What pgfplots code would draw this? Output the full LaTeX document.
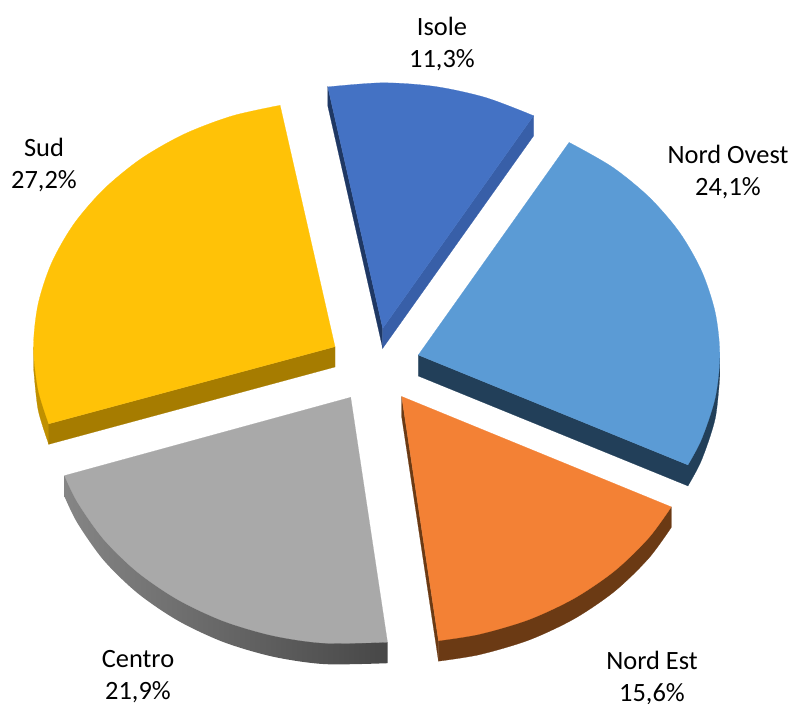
\documentclass[border=0pt]{standalone}
\usepackage{pgfplots}
\usepackage{fontspec}
\setmainfont{Carlito}
\pgfplotsset{compat=1.18}
\tikzset{lab/.style={font=\fontsize{26.4}{32}\selectfont,align=center,text=black,inner sep=0pt}}
\definecolor{isole}{HTML}{4472C4}\definecolor{isoleR}{HTML}{385FA8}\definecolor{isoleL}{HTML}{1F3864}
\definecolor{ovest}{HTML}{5B9BD5}\definecolor{ovestS}{HTML}{223F59}
\definecolor{est}{HTML}{F38135}\definecolor{estS}{HTML}{6B3A14}
\definecolor{centro}{HTML}{A9A9A9}\definecolor{centroL}{HTML}{858585}\definecolor{centroR}{HTML}{474747}
\definecolor{sud}{HTML}{FFC207}\definecolor{sudS}{HTML}{A67C00}\definecolor{sudO}{HTML}{C09000}
\begin{document}
\begin{tikzpicture}
\useasboundingbox (0,0) rectangle (790pt,704pt);
\begin{axis}[scale only axis,width=790pt,height=704pt,xmin=0,xmax=790,ymin=0,ymax=704,y dir=reverse,hide axis,clip=false,
  every axis plot/.append style={no markers,line width=0.2pt}]
% Isole
\addplot[fill=isoleL,draw=isoleL] coordinates {(327.8,86.9)(327.8,106)(382.7,348.3)(382.7,328.3)} -- cycle;
\addplot[fill=isoleR,draw=isoleR] coordinates {(533.5,115.7)(533.5,136)(382.7,348.3)(382.7,328.3)} -- cycle;
\addplot[fill=isole,draw=isole,smooth] coordinates {(327.8,86.9)(382.7,82.8)(435.1,86.5)(485.8,97.6)(533.5,115.7)} -- (axis cs:382.7,328.3) -- cycle;
% Nord Ovest
\addplot[fill=ovestS,draw=ovestS] coordinates {(418.3,355)(418.3,376)(687.9,485.9)(687.9,464.9)} -- cycle;
\addplot[fill=ovestS,draw=ovestS,smooth] coordinates {(719.8,376)(715.2,418.6)(701.6,460)(687.9,485.9)} -- (axis cs:687.9,464.9) -- (axis cs:719.8,355) -- cycle;
\addplot[fill=ovest,draw=ovest,smooth] coordinates {(569.1,142.4)(612.1,166.9)(649.2,197.2)(679.4,232.2)(701.6,271)(715.2,312.4)(719.8,355)(715.2,397.6)(701.6,439)(687.9,464.9)} -- (axis cs:418.3,355) -- cycle;
% Nord Est
\addplot[fill=estS,draw=estS] coordinates {(401.7,396.5)(401.7,417)(438.5,661.2)(438.5,640.7)} -- cycle;
\addplot[fill=estS,draw=estS,smooth] coordinates {(671.3,527.4)(648.7,558.3)(614.9,591.1)(574.6,618.6)(529.1,640)(479.7,654.6)(438.5,661.2)} -- (axis cs:438.5,640.7) -- (axis cs:671.3,506.9) -- cycle;
\addplot[fill=est,draw=est,smooth] coordinates {(671.3,506.9)(648.7,537.8)(614.9,570.6)(574.6,598.1)(529.1,619.5)(479.7,634.1)(438.5,640.7)} -- (axis cs:401.7,396.5) -- cycle;
% Centro
\addplot[left color=centroL,right color=centroR,draw=none,smooth] coordinates {(64.5,496.6)(77.5,523.2)(103.7,560.3)(137.5,593.1)(177.8,620.6)(223.3,642)(272.7,656.6)(324.4,664.1)(387.5,663.2)} -- (axis cs:387.5,642.2) -- (axis cs:64.5,475.6) -- cycle;
\addplot[fill=centro,draw=centro,smooth] coordinates {(64.5,475.6)(77.5,502.2)(103.7,539.3)(137.5,572.1)(177.8,599.6)(223.3,621)(272.7,635.6)(324.4,643.1)(387.5,642.2)} -- (axis cs:350.7,397.3) -- cycle;
% Sud
\addplot[fill=sudO,draw=sudO,smooth] coordinates {(33.5,367.2)(38.1,409.8)(48.8,444.3)} -- (axis cs:48.8,423.8) -- (axis cs:33.5,346.7) -- cycle;
\addplot[fill=sudS,draw=sudS] coordinates {(48.8,423.8)(48.8,444.3)(335,367)(335,346.7)} -- cycle;
\addplot[fill=sud,draw=sud,smooth] coordinates {(280.1,105.3)(231.9,116)(184.2,134.1)(141.2,158.6)(104.1,188.9)(73.9,223.9)(51.7,262.7)(38.1,304.1)(33.5,346.7)(38.1,389.3)(48.8,423.8)} -- (axis cs:335,346.7) -- cycle;
% Labels
\node[lab] at (axis cs:442,44) {Isole\\11,3\%};
\node[lab] at (axis cs:728,172) {Nord Ovest\\24,1\%};
\node[lab] at (axis cs:44,165) {Sud\\27,2\%};
\node[lab] at (axis cs:138,677) {Centro\\21,9\%};
\node[lab] at (axis cs:652,678) {Nord Est\\15,6\%};
\end{axis}
\end{tikzpicture}
\end{document}
